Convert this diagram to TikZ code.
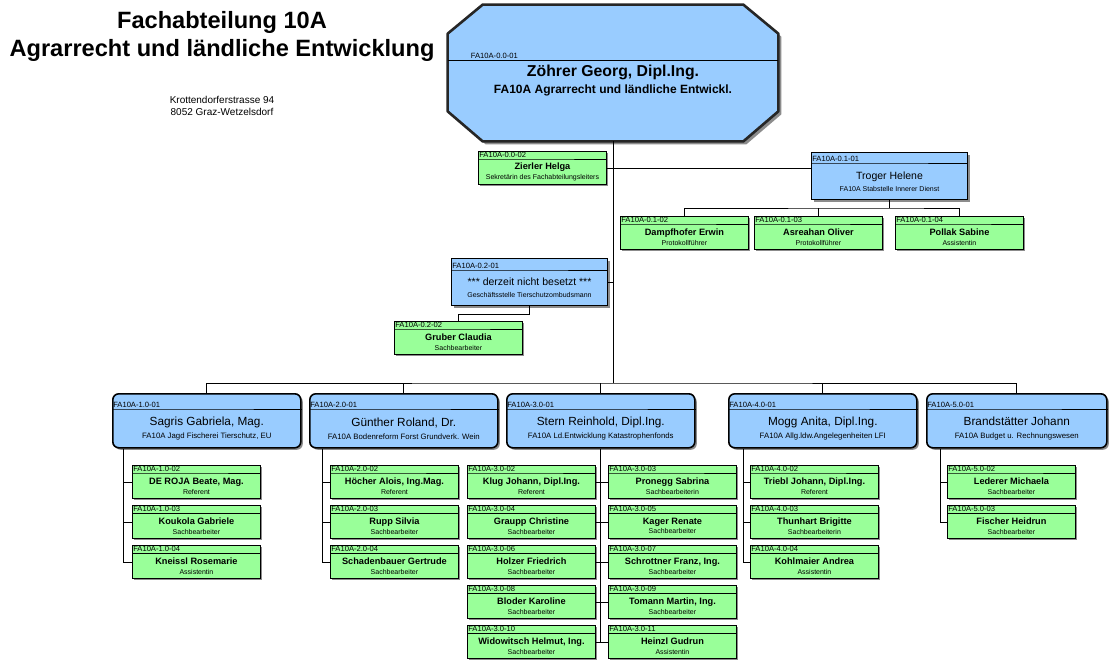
\documentclass[tikz,border=0pt]{standalone}
\usepackage{fontspec}
\setmainfont{Liberation Sans}
\usetikzlibrary{calc, positioning, shadows}
\definecolor{boxBlue}{HTML}{99CCFF}
\definecolor{boxGreen}{HTML}{99FF99}

% #1 style, #2 node, #3 left, #4 top, #5 id row, #6 id, #7 name, #8 role
\newcommand{\orgbox}[8]{%
  \node[#1, anchor=north west] (#2) at (#3,#4) {};
  \draw[thin] ([yshift=-#5pt]#2.north west) coordinate (#2-l)
     -- ([yshift=-#5pt]#2.north) coordinate (#2-m)
     -- ([yshift=-#5pt]#2.north east);
  \node[idlbl, anchor=south west] (#2-id) at (#2-l) {#6};
  \node[#1 txt] (#2-tx) at ($(#2-m)!0.5!(#2.south)$) {#7\\\rolefont #8};
}

\begin{document}
\begin{tikzpicture}[x=1pt, y=-1pt, line width=0.7pt,
    shd/.style={drop shadow={shadow xshift=2pt, shadow yshift=-2pt, fill=black!45, opacity=1}},
    staff/.style={draw=black, fill=boxGreen, line width=0.9pt, minimum width=128pt,
      minimum height=33pt, inner sep=0pt, shd},
    staff txt/.style={align=center, inner sep=0pt, font=\fontsize{9.2}{9.8}\selectfont\bfseries,
      execute at begin node={\def\rolefont{\fontsize{7}{7.5}\selectfont\mdseries}}},
    unit/.style={draw=black, fill=boxBlue, line width=1pt, minimum width=156pt,
      minimum height=47pt, inner sep=0pt, shd},
    unit txt/.style={align=center, inner sep=0pt, font=\fontsize{10.5}{12}\selectfont,
      execute at begin node={\def\rolefont{\fontsize{7}{8}\selectfont}}},
    dept/.style={draw=black, fill=boxBlue, line width=1.6pt, rounded corners=6pt,
      minimum width=188pt, minimum height=54pt, inner sep=0pt, shd},
    dept txt/.style={align=center, inner sep=0pt, font=\fontsize{11.8}{13}\selectfont,
      execute at begin node={\def\rolefont{\fontsize{7.8}{8}\selectfont}}},
    deptR/.style={dept, minimum width=180pt},
    deptR txt/.style={dept txt},
    idlbl/.style={font=\fontsize{7.6}{8}\selectfont, inner sep=0.6pt, xshift=0.3pt},
    octo/.style={draw=black!85, line width=2.6pt, fill=boxBlue, line join=round,
      drop shadow={shadow xshift=3pt, shadow yshift=-3pt, fill=black!45, opacity=1}}]
  \path[use as bounding box, fill=white] (0,0) rectangle (1113,662);

  % title
  \node[align=center, font=\fontsize{23.6}{28}\selectfont\bfseries] (ttl) at (222,36)
    {Fachabteilung 10A\\Agrarrecht und ländliche Entwicklung};
  \node[align=center, font=\fontsize{10}{12}\selectfont] (adr) at (222,106)
    {Krottendorferstrasse 94\\8052 Graz-Wetzelsdorf};

  % head of department
  \node[minimum width=330pt, minimum height=136pt, inner sep=0pt] (top) at (613,73) {};
  \draw[octo] ([xshift=35pt]top.north west) -- ([xshift=-35pt]top.north east)
    -- ([yshift=-29pt]top.north east) -- ([yshift=30pt]top.south east)
    -- ([xshift=-35pt]top.south east) -- ([xshift=35pt]top.south west)
    -- ([yshift=30pt]top.south west) -- ([yshift=-29pt]top.north west) -- cycle;
  \draw[thin] ([yshift=13pt]top.west) coordinate (top-l) -- ([yshift=13pt]top.east);
  \node[idlbl, anchor=south west, xshift=22pt] (top-id) at (top-l) {FA10A-0.0-01};
  \node[font=\fontsize{15.8}{17}\selectfont\bfseries] (top-nm) at (613,72) {Zöhrer Georg, Dipl.Ing.};
  \node[font=\fontsize{12}{13}\selectfont\bfseries] (top-rl) at (613,90) {FA10A Agrarrecht und ländliche Entwickl.};

  % staff units
  \orgbox{staff}{zierler}{478}{151}{8}{FA10A-0.0-02}{Zierler Helga}{Sekretärin des Fachabteilungsleiters}
  \orgbox{unit}{troger}{811}{152}{11}{FA10A-0.1-01}{Troger Helene}{FA10A Stabstelle Innerer Dienst}
  \orgbox{staff}{dampf}{620}{216}{8}{FA10A-0.1-02}{Dampfhofer Erwin}{Protokollführer}
  \orgbox{staff}{asre}{754}{216}{8}{FA10A-0.1-03}{Asreahan Oliver}{Protokollführer}
  \orgbox{staff}{pollak}{895}{216}{8}{FA10A-0.1-04}{Pollak Sabine}{Assistentin}
  \orgbox{unit}{vacant}{451}{258}{12}{FA10A-0.2-01}{*** derzeit nicht besetzt ***}{Geschäftsstelle Tierschutzombudsmann}
  \orgbox{staff}{gruber}{394}{321}{8}{FA10A-0.2-02}{Gruber Claudia}{Sachbearbeiter}

  % departments
  \orgbox{dept}{d1}{112}{393}{16}{FA10A-1.0-01}{Sagris Gabriela, Mag.}{FA10A Jagd Fischerei Tierschutz, EU}
  \orgbox{dept}{d2}{309}{393}{16}{FA10A-2.0-01}{Günther Roland, Dr.}{FA10A Bodenreform Forst Grundverk. Wein}
  \orgbox{dept}{d3}{506}{393}{16}{FA10A-3.0-01}{Stern Reinhold, Dipl.Ing.}{FA10A Ld.Entwicklung Katastrophenfonds}
  \orgbox{dept}{d4}{728}{393}{16}{FA10A-4.0-01}{Mogg Anita, Dipl.Ing.}{FA10A Allg.ldw.Angelegenheiten LFI}
  \orgbox{deptR}{d5}{926}{393}{16}{FA10A-5.0-01}{Brandstätter Johann}{FA10A Budget u. Rechnungswesen}

  \orgbox{staff}{k12}{132}{465}{8}{FA10A-1.0-02}{DE ROJA Beate, Mag.}{Referent}
  \orgbox{staff}{k13}{132}{505}{8}{FA10A-1.0-03}{Koukola Gabriele}{Sachbearbeiter}
  \orgbox{staff}{k14}{132}{545}{8}{FA10A-1.0-04}{Kneissl Rosemarie}{Assistentin}

  \orgbox{staff}{k22}{330}{465}{8}{FA10A-2.0-02}{Höcher Alois, Ing.Mag.}{Referent}
  \orgbox{staff}{k23}{330}{505}{8}{FA10A-2.0-03}{Rupp Silvia}{Sachbearbeiter}
  \orgbox{staff}{k24}{330}{545}{8}{FA10A-2.0-04}{Schadenbauer Gertrude}{Sachbearbeiter}

  \orgbox{staff}{k32}{467}{465}{8}{FA10A-3.0-02}{Klug Johann, Dipl.Ing.}{Referent}
  \orgbox{staff}{k33}{608}{465}{8}{FA10A-3.0-03}{Pronegg Sabrina}{Sachbearbeiterin}
  \orgbox{staff}{k34}{467}{505}{8}{FA10A-3.0-04}{Graupp Christine}{Sachbearbeiter}
  \orgbox{staff}{k35}{608}{505}{8}{FA10A-3.0-05}{Kager Renate}{Sachbearbeiter}
  \orgbox{staff}{k36}{467}{545}{8}{FA10A-3.0-06}{Holzer Friedrich}{Sachbearbeiter}
  \orgbox{staff}{k37}{608}{545}{8}{FA10A-3.0-07}{Schrottner Franz, Ing.}{Sachbearbeiter}
  \orgbox{staff}{k38}{467}{585}{8}{FA10A-3.0-08}{Bloder Karoline}{Sachbearbeiter}
  \orgbox{staff}{k39}{608}{585}{8}{FA10A-3.0-09}{Tomann Martin, Ing.}{Sachbearbeiter}
  \orgbox{staff}{k310}{467}{625}{8}{FA10A-3.0-10}{Widowitsch Helmut, Ing.}{Sachbearbeiter}
  \orgbox{staff}{k311}{608}{625}{8}{FA10A-3.0-11}{Heinzl Gudrun}{Assistentin}

  \orgbox{staff}{k42}{750}{465}{8}{FA10A-4.0-02}{Triebl Johann, Dipl.Ing.}{Referent}
  \orgbox{staff}{k43}{750}{505}{8}{FA10A-4.0-03}{Thunhart Brigitte}{Sachbearbeiterin}
  \orgbox{staff}{k44}{750}{545}{8}{FA10A-4.0-04}{Kohlmaier Andrea}{Assistentin}

  \orgbox{staff}{k52}{947}{465}{8}{FA10A-5.0-02}{Lederer Michaela}{Sachbearbeiter}
  \orgbox{staff}{k53}{947}{505}{8}{FA10A-5.0-03}{Fischer Heidrun}{Sachbearbeiter}

  % connectors
  \path (top.south |- d1.north) ++(0,-10) coordinate (bus);
  \draw (top.south) -- (bus);
  \draw (d1.north) |- (bus) -| (d5.north);
  \foreach \d in {d2,d3,d4} \draw (\d.north) -- (\d.north |- bus);

  \draw (zierler.east) -- (zierler.east -| troger.west);
  \path (troger.south) ++(0,8) coordinate (tb);
  \draw (troger.south) -- (tb);
  \draw (dampf.north) |- (tb) -| (pollak.north);
  \draw (asre.north) -- (asre.north |- tb);

  \draw (vacant.east) -- (vacant.east -| top.south);
  \draw (vacant.south) -- ++(0,8) -| (gruber.north);

  \path (d1.south) ++(-83,0) coordinate (v1);
  \path (d2.south) ++(-81,0) coordinate (v2);
  \path (d4.south) ++(-79,0) coordinate (v4);
  \path (d5.south) ++(-76,0) coordinate (v5);
  \draw (v1) |- (k14.west);
  \draw (v2) |- (k24.west);
  \draw (v4) |- (k44.west);
  \draw (v5) |- (k53.west);
  \foreach \v/\k in {v1/k12,v1/k13,v2/k22,v2/k23,v4/k42,v4/k43,v5/k52}
    \draw (\v |- \k.west) -- (\k.west);

  \draw (d3.south) -- (d3.south |- k310.east);
  \foreach \a/\b in {k32/k33,k34/k35,k36/k37,k38/k39,k310/k311}
    \draw (\a.east) -- (\b.west);
\end{tikzpicture}
\end{document}
